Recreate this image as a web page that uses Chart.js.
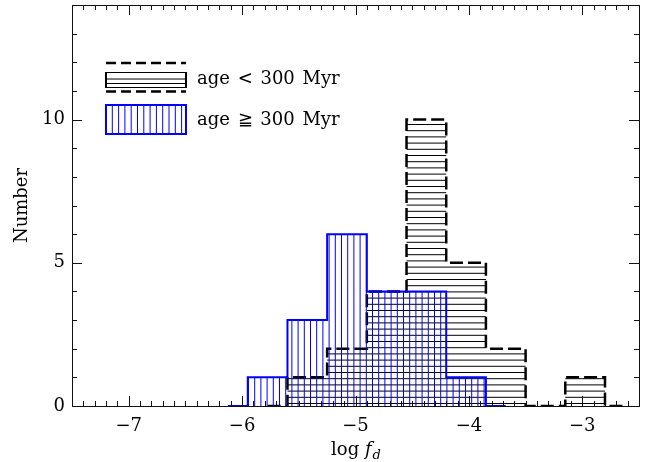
<!DOCTYPE html>
<html>
<head>
<meta charset="utf-8">
<script src="https://cdn.jsdelivr.net/npm/chart.js@4"></script>
<style>
html, body { margin: 0; padding: 0; background: #fff; }
#wrap { width: 649px; height: 462px; }
</style>
</head>
<body>
<div id="wrap"><canvas id="histChart"></canvas></div>
<script>
// histogram bins of log f_d, width 0.35 (centres incl. empty end bins)
const youngCentres = [-5.775, -5.425, -5.075, -4.725, -4.375, -4.025, -3.675, -3.325, -2.975, -2.625];
const youngCounts = [0, 1, 2, 4, 10, 5, 2, 0, 1, 0];
const oldCentres = [-6.125, -5.775, -5.425, -5.075, -4.725, -4.375, -4.025, -3.675];
const oldCounts = [0, 1, 3, 6, 4, 4, 1, 0];

const xTickValues = [-7, -6, -5, -4, -3];
const yTickValues = [0, 5, 10];
const legendLabels = ['age < 300 Myr', 'age \u2267 300 Myr'];

const SERIF = "'DejaVu Serif', 'Liberation Serif', serif";
const BLUE = '#0000ff';

// line hatching as a repeating canvas pattern
function makeHatch(color, vertical) {
    const size = 31, n = 5;
    const c = document.createElement('canvas');
    c.width = size;
    c.height = size;
    const g = c.getContext('2d');
    g.strokeStyle = color;
    g.lineWidth = 1;
    for (let i = 0; i < n; i++) {
        const p = i * size / n + 0.5;
        g.beginPath();
        if (vertical) {
            g.moveTo(p, 0); g.lineTo(p, size);
        } else {
            g.moveTo(0, p); g.lineTo(size, p);
        }
        g.stroke();
    }
    return g.createPattern(c, 'repeat');
}

const hatchH = makeHatch('#000', false);
const hatchV = makeHatch(BLUE, true);

function toPoints(xs, ys) {
    return xs.map((x, i) => ({ x: x, y: ys[i] }));
}

// frame with inward ticks on all four sides, plus legend and x title
const idlFrame = {
    id: 'idlFrame',
    afterDatasetsDraw(chart) {
        const { ctx, chartArea: a, scales: { x, y } } = chart;
        ctx.save();
        ctx.strokeStyle = '#111';
        ctx.lineWidth = 1;
        ctx.strokeRect(a.left + 0.5, a.top + 0.5, a.right - a.left, a.bottom - a.top);

        ctx.beginPath();
        for (let k = Math.ceil(x.min * 10); k <= Math.floor(x.max * 10); k++) {
            const px = Math.round(x.getPixelForValue(k / 10)) + 0.5;
            const len = k % 10 === 0 ? 10 : 5;
            ctx.moveTo(px, a.bottom); ctx.lineTo(px, a.bottom - len);
            ctx.moveTo(px, a.top); ctx.lineTo(px, a.top + len);
        }
        for (let k = Math.ceil(y.min); k <= Math.floor(y.max); k++) {
            const py = Math.round(y.getPixelForValue(k)) + 0.5;
            const len = k % 5 === 0 ? 10 : 5;
            ctx.moveTo(a.left, py); ctx.lineTo(a.left + len, py);
            ctx.moveTo(a.right, py); ctx.lineTo(a.right - len, py);
        }
        ctx.stroke();

        // x title: log f_d
        ctx.fillStyle = '#000';
        ctx.textBaseline = 'alphabetic';
        ctx.textAlign = 'left';
        const f1 = '18px ' + SERIF, f2 = 'italic 18px ' + SERIF, f3 = 'italic 13px ' + SERIF;
        ctx.font = f1; const w1 = ctx.measureText('log ').width;
        ctx.font = f2; const w2 = ctx.measureText('f').width;
        ctx.font = f3; const w3 = ctx.measureText('d').width;
        let tx = (a.left + a.right) / 2 - (w1 + w2 + w3) / 2;
        const ty = 455;
        ctx.font = f1; ctx.fillText('log ', tx, ty); tx += w1;
        ctx.font = f2; ctx.fillText('f', tx, ty); tx += w2 + 1;
        ctx.font = f3; ctx.fillText('d', tx, ty + 4);

        // legend
        const lx = 106, lw = 80;
        // young: dashed top/bottom, solid ends, horizontal hatch
        ctx.strokeStyle = '#000';
        ctx.lineWidth = 2.5;
        ctx.setLineDash([10, 5]);
        ctx.beginPath();
        ctx.moveTo(lx, 63); ctx.lineTo(lx + lw, 63);
        ctx.moveTo(lx, 91.5); ctx.lineTo(lx + lw, 91.5);
        ctx.stroke();
        ctx.setLineDash([]);
        ctx.lineWidth = 1;
        ctx.beginPath();
        [72.5, 79, 83.5, 87.5].forEach(yy => { ctx.moveTo(lx, yy); ctx.lineTo(lx + lw, yy); });
        ctx.stroke();
        ctx.lineWidth = 2;
        ctx.beginPath();
        ctx.moveTo(lx, 72); ctx.lineTo(lx, 88);
        ctx.moveTo(lx + lw, 72); ctx.lineTo(lx + lw, 88);
        ctx.stroke();

        // old: solid blue box, vertical hatch
        ctx.strokeStyle = BLUE;
        ctx.lineWidth = 1;
        ctx.beginPath();
        for (let hx = lx + 6.3; hx < lx + lw - 1; hx += 6.3) {
            ctx.moveTo(hx, 105); ctx.lineTo(hx, 134);
        }
        ctx.stroke();
        ctx.lineWidth = 2;
        ctx.strokeRect(lx, 105, lw, 29);

        ctx.fillStyle = '#000';
        ctx.font = '18px ' + SERIF;
        if ('wordSpacing' in ctx) ctx.wordSpacing = '2px';
        ctx.fillText(legendLabels[0], 197, 83.5);
        ctx.fillText(legendLabels[1], 197, 125);
        ctx.restore();
    }
};

new Chart(document.getElementById('histChart'), {
    type: 'line',
    data: {
        datasets: [{
            label: legendLabels[0],
            data: toPoints(youngCentres, youngCounts),
            stepped: 'middle',
            borderColor: '#000',
            borderWidth: 2.5,
            borderDash: [13, 5],
            backgroundColor: hatchH,
            fill: 'origin',
            pointRadius: 0,
            order: 1
        }, {
            label: legendLabels[1],
            data: toPoints(oldCentres, oldCounts),
            stepped: 'middle',
            borderColor: BLUE,
            borderWidth: 2,
            backgroundColor: hatchV,
            fill: 'origin',
            pointRadius: 0,
            order: 0
        }]
    },
    options: {
        responsive: true,
        maintainAspectRatio: false,
        animation: false,
        layout: { padding: { left: 0, right: 10, top: 5, bottom: 0 } },
        plugins: {
            legend: { display: false },
            tooltip: { enabled: false }
        },
        scales: {
            x: {
                type: 'linear',
                min: -7.5,
                max: -2.5,
                grid: { display: false, drawTicks: false },
                border: { display: false },
                afterBuildTicks: s => { s.ticks = xTickValues.map(v => ({ value: v })); },
                afterFit: s => {
                    s.height = 56;
                    s.paddingLeft = 0;
                    s.paddingRight = 0;
                },
                ticks: {
                    padding: 10,
                    color: '#000',
                    font: { family: SERIF, size: 18 },
                    callback: v => (v < 0 ? '\u2212' : '') + Math.abs(v)
                }
            },
            y: {
                min: 0,
                max: 14,
                grid: { display: false, drawTicks: false },
                border: { display: false },
                afterBuildTicks: s => { s.ticks = yTickValues.map(v => ({ value: v })); },
                afterFit: s => {
                    s.width = 72;
                    s.paddingTop = 0;
                    s.paddingBottom = 0;
                },
                ticks: {
                    padding: 7,
                    color: '#000',
                    font: { family: SERIF, size: 18 }
                },
                title: {
                    display: true,
                    text: 'Number',
                    color: '#000',
                    font: { family: SERIF, size: 18 },
                    padding: { top: 12, bottom: 0 }
                }
            }
        }
    },
    plugins: [idlFrame]
});
</script>
</body>
</html>
